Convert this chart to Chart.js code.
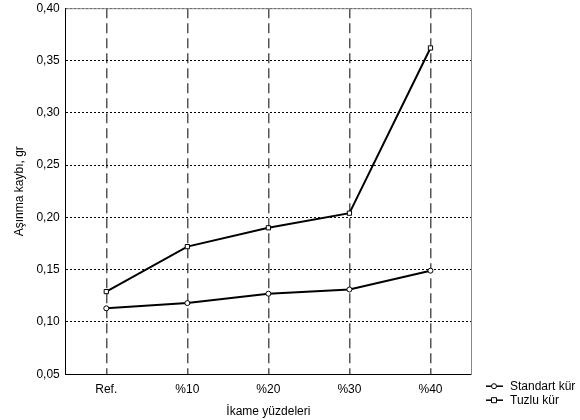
<!DOCTYPE html>
<html>
<head>
<meta charset="utf-8">
<script src="https://cdn.jsdelivr.net/npm/chart.js@4"></script>
<style>
  html, body { margin: 0; padding: 0; background: #fff; overflow: hidden; }
  #wrap { width: 580px; height: 425px; margin-top: -5px; }
</style>
</head>
<body>
<div id="wrap"><canvas id="chart"></canvas></div>
<script>
// Data
const categories = ['Ref.', '%10', '%20', '%30', '%40'];
const standartKur = [0.113, 0.118, 0.127, 0.131, 0.149];
const tuzluKur = [0.129, 0.172, 0.190, 0.204, 0.362];
const seriesLabels = ['Standart kür', 'Tuzlu kür'];
const yTitle = 'Aşınma kaybı, gr';
const xTitle = 'İkame yüzdeleri';

const FONT = 'Liberation Sans, Arial, sans-serif';
const FONT_SIZE = 12;

// Frame: grey top/right border + legend drawn beside the plot
const framePlugin = {
    id: 'frame',
    beforeDatasetsDraw(chart) {
        const { ctx, chartArea: a } = chart;
        ctx.save();
        ctx.strokeStyle = '#888';
        ctx.lineWidth = 1;
        ctx.beginPath();
        ctx.moveTo(a.left, a.top + 0.5);
        ctx.lineTo(a.right + 0.5, a.top + 0.5);
        ctx.lineTo(a.right + 0.5, a.bottom);
        ctx.stroke();
        ctx.restore();
    },
    afterDraw(chart) {
        const { ctx, chartArea: a } = chart;
        ctx.save();
        ctx.font = FONT_SIZE + 'px ' + FONT;
        ctx.textBaseline = 'middle';
        chart.data.datasets.forEach((ds, i) => {
            const y = a.bottom + 12 + i * 14;
            const x0 = a.right + 15;
            ctx.strokeStyle = '#000';
            ctx.lineWidth = 1.5;
            ctx.beginPath();
            ctx.moveTo(x0, y);
            ctx.lineTo(x0 + 17, y);
            ctx.stroke();
            ctx.fillStyle = '#fff';
            ctx.lineWidth = 1;
            ctx.beginPath();
            if (ds.pointStyle === 'rect') {
                ctx.rect(x0 + 5.5, y - 2.5, 5, 5);
            } else {
                ctx.arc(x0 + 8, y, 2.5, 0, Math.PI * 2);
            }
            ctx.fill();
            ctx.stroke();
            ctx.fillStyle = '#000';
            ctx.fillText(ds.label, x0 + 24, y);
        });
        ctx.restore();
    },
};

const ctx = document.getElementById('chart').getContext('2d');

// eslint-disable-next-line no-new
new Chart(ctx, {
    type: 'line',
    data: {
        labels: categories,
        datasets: [
            {
                label: seriesLabels[0],
                data: standartKur,
                borderColor: '#000',
                borderWidth: 2,
                pointStyle: 'circle',
                pointRadius: 2.5,
                pointBackgroundColor: '#fff',
                pointBorderColor: '#000',
                pointBorderWidth: 1,
                tension: 0,
            },
            {
                label: seriesLabels[1],
                data: tuzluKur,
                borderColor: '#000',
                borderWidth: 2,
                pointStyle: 'rect',
                pointRadius: 3,
                pointBackgroundColor: '#fff',
                pointBorderColor: '#000',
                pointBorderWidth: 1,
                tension: 0,
            },
        ],
    },
    options: {
        responsive: true,
        maintainAspectRatio: false,
        animation: false,
        layout: {
            padding: { top: 0, right: 109, bottom: 1, left: 12 },
        },
        plugins: {
            legend: { display: false },
            tooltip: { enabled: false },
        },
        scales: {
            x: {
                offset: true,
                grid: {
                    offset: false,
                    color: '#555',
                    lineWidth: 1.5,
                    drawTicks: false,
                },
                border: { color: '#000', width: 1, dash: [10, 5] },
                ticks: {
                    color: '#000',
                    font: { family: FONT, size: FONT_SIZE },
                    padding: 8,
                },
                title: {
                    display: true,
                    text: xTitle,
                    color: '#000',
                    font: { family: FONT, size: FONT_SIZE },
                    padding: { top: 0, bottom: 0 },
                },
            },
            y: {
                min: 0.05,
                max: 0.40,
                ticks: {
                    stepSize: 0.05,
                    color: '#000',
                    font: { family: FONT, size: FONT_SIZE },
                    padding: 6,
                    callback: (v) => v.toFixed(2).replace('.', ','),
                },
                grid: {
                    color: '#000',
                    lineWidth: 1,
                    drawTicks: false,
                },
                border: { color: '#000', width: 1, dash: [2, 2] },
                title: {
                    display: true,
                    text: yTitle,
                    color: '#000',
                    font: { family: FONT, size: FONT_SIZE },
                    padding: { top: 0, bottom: 4 },
                },
            },
        },
    },
    plugins: [framePlugin],
});
</script>
</body>
</html>
